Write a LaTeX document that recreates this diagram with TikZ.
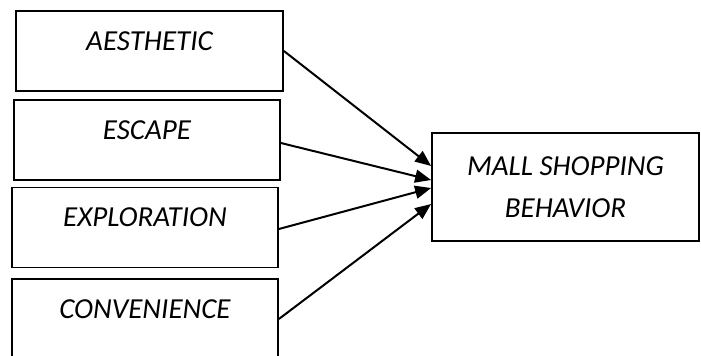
\documentclass[tikz,border=0pt]{standalone}
\usepackage{fontspec}
\setmainfont{Carlito}
\usetikzlibrary{arrows.meta}

\tikzset{
  factor/.style={draw, line width=0.9pt, inner xsep=0pt, inner ysep=0pt,
    minimum width=133pt, text height=19.5pt, text depth=20.5pt,
    font=\fontsize{14.5}{21}\selectfont\itshape},
  outcome/.style={draw, line width=0.9pt, minimum width=133.5pt,
    minimum height=54pt, align=center,
    font=\fontsize{14.5}{21}\selectfont\itshape}
}

\begin{document}
\begin{tikzpicture}[>={Triangle[length=8pt,width=6.5pt]}, line width=1pt]
  \useasboundingbox (0,0) rectangle (350.5pt,177.5pt);

  \node[factor, minimum width=133.5pt] (aes) at (74.75pt,152pt) {AESTHETIC};
  \node[factor] (esc) at (73.5pt,107.5pt) {ESCAPE};
  \node[factor] (exp) at (72.5pt,63.75pt) {EXPLORATION};
  \node[factor] (con) at (72.5pt,18pt) {CONVENIENCE};
  \node[outcome] (mall) at (282.75pt,84pt) {MALL SHOPPING\\BEHAVIOR};

  \draw[->] (aes.east) -- ([yshift=10.5pt]mall.west);
  \draw[->] ([yshift=-1.5pt]esc.east) -- ([yshift=3.5pt]mall.west);
  \draw[->] ([yshift=-0.75pt]exp.east) -- ([yshift=-0.5pt]mall.west);
  \draw[->] (con.east) -- ([yshift=-8.5pt]mall.west);
\end{tikzpicture}
\end{document}
